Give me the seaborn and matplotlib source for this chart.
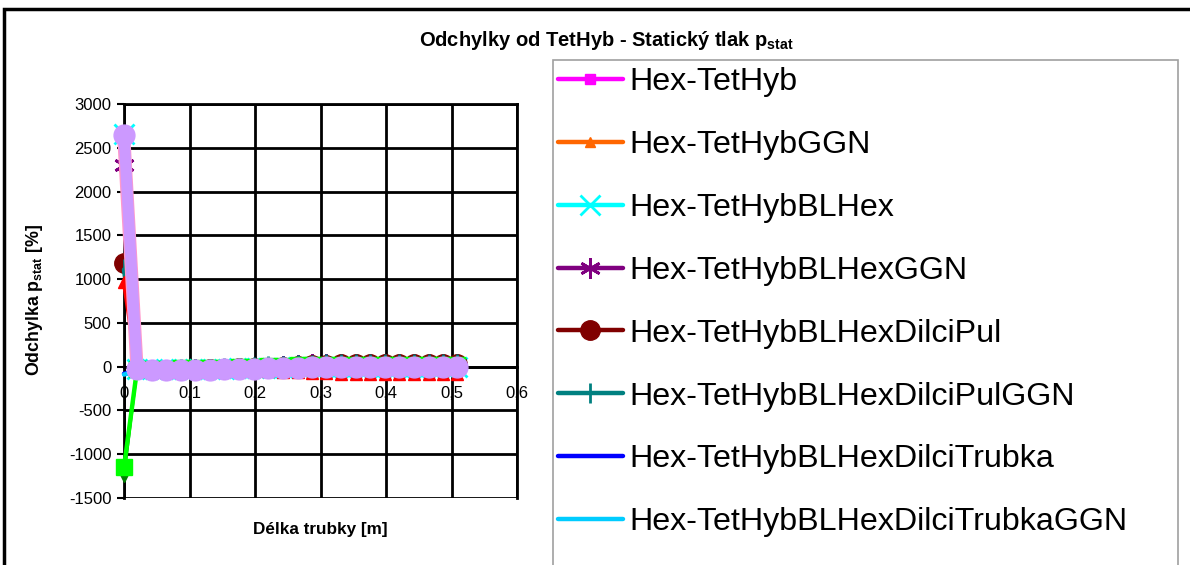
import matplotlib
matplotlib.use("Agg")
import matplotlib.pyplot as plt
from matplotlib.patches import Rectangle
from matplotlib.lines import Line2D
import pandas as pd
import seaborn as sns

# Position along the pipe [m]
delka = [0.000, 0.020, 0.042, 0.064, 0.087, 0.109, 0.131, 0.153, 0.176, 0.198, 0.220, 0.242,
         0.265, 0.287, 0.309, 0.331, 0.354, 0.376, 0.398, 0.420, 0.443, 0.465, 0.487, 0.509]

# Deviation of static pressure from TetHyb [%]
hex_tethyb = [2650, -20, -25, -25, -25, -25, -20, -20, -20, -15, -10, -5,
              0, 5, 5, 5, 5, 5, 5, 5, 5, 5, 5, 5]
hex_tethyb_ggn = [2290, -15, -20, -20, -20, -20, -15, -15, -10, -10, -5, 0,
                  5, 10, 10, 10, 10, 10, 10, 10, 10, 10, 10, 10]
hex_blhex = [2660, -25, -30, -30, -30, -30, -25, -25, -20, -20, -15, -10,
             -5, 0, 0, 0, 0, 0, 0, 0, 0, 0, 0, 0]
hex_blhex_ggn = [2300, -30, -35, -35, -35, -30, -30, -25, -20, -10, 0, 10,
                 20, 25, 30, 35, 35, 35, 35, 35, 35, 35, 35, 35]
hex_dilcipul = [1180, -30, -35, -35, -35, -35, -30, -25, -20, -15, -10, 0,
                10, 15, 20, 25, 25, 25, 25, 25, 25, 25, 25, 25]
hex_dilcipul_ggn = [1110, -30, -35, -35, -30, -30, -25, -20, -15, -5, 5, 10,
                    15, 20, 25, 25, 25, 25, 25, 25, 25, 25, 25, 25]
hex_dilcitrubka = [-80, -45, -40, -40, -35, -35, -30, -30, -25, -20, -15, -10,
                   -5, 0, 0, 0, 0, 0, 0, 0, 0, 0, 0, 0]
hex_dilcitrubka_ggn = [-90, -50, -45, -45, -40, -40, -35, -35, -30, -25, -20, -15,
                       -10, -5, -5, -5, -5, -5, -5, -5, -5, -5, -5, -5]
red_series = [970, -40, -45, -45, -45, -45, -45, -45, -45, -50, -55, -60,
              -65, -70, -75, -80, -80, -80, -80, -80, -80, -80, -80, -80]
darkgreen_series = [-1250, -30, -30, -30, -25, -25, -20, -15, -10, -5, 0, 5,
                    10, 15, 15, 15, 15, 15, 15, 15, 15, 15, 15, 15]
green_series = [-1150, -25, -25, -25, -20, -20, -15, -10, -5, 0, 5, 10,
                15, 20, 20, 20, 20, 20, 20, 20, 20, 20, 20, 20]
pink_series = [2580, -35, -38, -38, -38, -38, -36, -32, -30, -25, -20, -15,
               -10, -5, 0, 0, 0, 0, 0, 0, 0, 0, 0, 0]
lavender_series = [2650, -30, -35, -35, -35, -35, -35, -30, -30, -25, -20, -15,
                   -10, -5, 0, 0, 0, 0, 0, 0, 0, 0, 0, 0]

legend_names = ["Hex-TetHyb", "Hex-TetHybGGN", "Hex-TetHybBLHex", "Hex-TetHybBLHexGGN",
                "Hex-TetHybBLHexDilciPul", "Hex-TetHybBLHexDilciPulGGN",
                "Hex-TetHybBLHexDilciTrubka", "Hex-TetHybBLHexDilciTrubkaGGN"]

x_ticks = [0, 0.1, 0.2, 0.3, 0.4, 0.5, 0.6]
x_tick_labels = ["0", "0,1", "0,2", "0,3", "0,4", "0,5", "0,6"]
y_ticks = [-1500, -1000, -500, 0, 500, 1000, 1500, 2000, 2500, 3000]

ASTER = (6, 2, 0)
# (values, label, color, marker, markersize, linewidth, marker edge width)
series = [
    (hex_tethyb, legend_names[0], "#FF00FF", "s", 7, 3.2, 1),
    (hex_tethyb_ggn, legend_names[1], "#FF6600", "^", 7, 3.2, 1),
    (hex_blhex, legend_names[2], "#00FFFF", "x", 14, 3.2, 2),
    (hex_blhex_ggn, legend_names[3], "#800080", ASTER, 15, 3.2, 2),
    (hex_dilcipul, legend_names[4], "#800000", "o", 14, 3.2, 1),
    (hex_dilcipul_ggn, legend_names[5], "#008080", "|", 14, 3.2, 2),
    (hex_dilcitrubka, legend_names[6], "#0000FF", None, 0, 3.2, 1),
    (hex_dilcitrubka_ggn, legend_names[7], "#00CCFF", None, 0, 3.2, 1),
    (red_series, None, "#FF0000", "^", 9, 3.2, 1),
    (darkgreen_series, None, "#008000", "v", 9, 2.0, 1),
    (green_series, None, "#00FF00", "s", 11, 3.2, 1),
    (pink_series, None, "#FF99CC", None, 0, 9.5, 1),
    (lavender_series, None, "#CC99FF", "o", 15, 8.0, 1),
]

sns.set_theme(style="white")
plt.rcParams["font.family"] = ["Liberation Sans", "DejaVu Sans"]
plt.rcParams["mathtext.fontset"] = "custom"
plt.rcParams["mathtext.rm"] = "Liberation Sans"
plt.rcParams["mathtext.bf"] = "Liberation Sans:bold"
plt.rcParams["axes.unicode_minus"] = False

fig = plt.figure(figsize=(11.9, 5.65), dpi=100)
fig.patch.set_facecolor("white")
ax = fig.add_axes([124 / 1190, 1 - 498 / 565, (517 - 124) / 1190, (498 - 104) / 565])

handles = []
for vals, label, color, marker, ms, lw, mew in series:
    df = pd.DataFrame({"x": delka, "y": vals})
    kws = dict(color=color, linewidth=lw, ax=ax, legend=False, sort=False,
               estimator=None, clip_on=False, zorder=3)
    if marker is not None:
        kws.update(marker=marker, markersize=ms, markeredgecolor=color,
                   markerfacecolor=color, markeredgewidth=mew)
    sns.lineplot(data=df, x="x", y="y", **kws)
    if label is not None:
        handles.append(Line2D([], [], color=color, linewidth=lw,
                              marker=marker if marker is not None else "None",
                              markersize=ms, markeredgecolor=color,
                              markerfacecolor=color, markeredgewidth=mew,
                              label=label))

ax.set_xlim(0, 0.6)
ax.set_ylim(-1500, 3000)
ax.set_xticks(x_ticks)
ax.set_xticklabels(x_tick_labels)
ax.set_yticks(y_ticks)
ax.set_yticklabels([str(v) for v in y_ticks])
ax.grid(True, color="black", linewidth=2.0)
ax.set_axisbelow(True)

for side in ["top", "right", "left", "bottom"]:
    ax.spines[side].set_color("black")
    ax.spines[side].set_linewidth(2.0)
    ax.spines[side].set_zorder(1)
ax.spines["bottom"].set_position(("data", 0))

ax.tick_params(axis="y", direction="out", length=5, width=1.5, color="black",
               labelsize=12, pad=4, left=True)
ax.tick_params(axis="x", length=0, labelsize=12, pad=14)
for t in ax.get_xticklabels() + ax.get_yticklabels():
    t.set_color("black")

ax.set_xlabel("Délka trubky [m]", fontsize=12.3, fontweight="bold", color="black")
ax.xaxis.set_label_coords(0.5, -(522 - 498) / 394)
ax.set_ylabel(r"Odchylka $\mathbf{p_{stat}}$ [%]", fontsize=12.8, fontweight="bold",
              color="black")
ax.yaxis.set_label_coords((45 - 124) / 393, (498 - 300) / 394)

fig.text(0.51, 1 - 40 / 565, r"Odchylky od TetHyb - Statický tlak $\mathbf{p_{stat}}$",
         ha="center", va="center", fontsize=14.5, fontweight="bold", color="black")

leg = fig.legend(handles=handles, loc="upper left",
                 bbox_to_anchor=(555 / 1190, 1 - 64 / 565), bbox_transform=fig.transFigure,
                 fontsize=23.2, frameon=False, handlelength=2.0, handletextpad=0.2,
                 labelspacing=1.02, borderpad=0.1, borderaxespad=0)
for txt in leg.get_texts():
    txt.set_color("black")

# legend box continuing past the lower edge of the chart area
fig.patches.append(Rectangle((553 / 1190, -0.05), (1178 - 553) / 1190, 1 - 60 / 565 + 0.05,
                             transform=fig.transFigure, fill=False,
                             edgecolor="#A0A0A0", linewidth=1.2, clip_on=False))
# chart area border
fig.patches.append(Rectangle((4 / 1190, -0.05), 1.1, 1 - 9 / 565 + 0.05,
                             transform=fig.transFigure, fill=False,
                             edgecolor="black", linewidth=2.5, clip_on=False))

fig.savefig("out.png", dpi=100)
